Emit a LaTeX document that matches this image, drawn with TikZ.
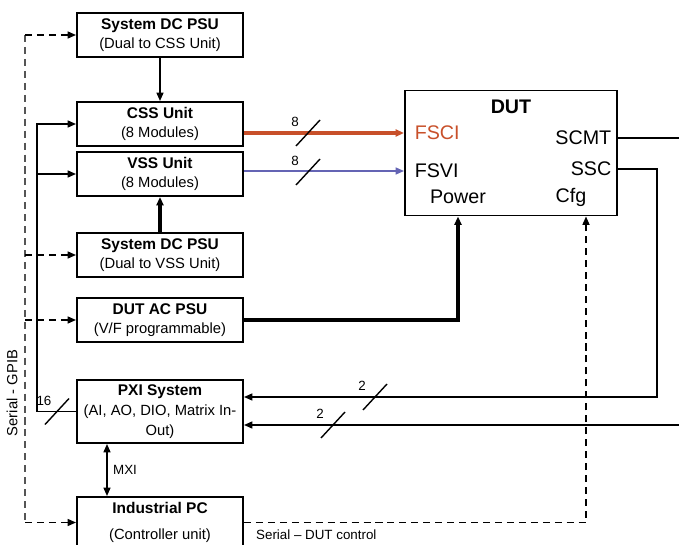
\documentclass[tikz,border=0pt]{standalone}
\usepackage{fontspec}
\setmainfont{Liberation Sans}
\usetikzlibrary{arrows.meta, calc}
\definecolor{cfsci}{HTML}{C8502A}
\definecolor{cfsvi}{HTML}{6464B4}
\definecolor{cgpib}{HTML}{555555}
\tikzset{
  every picture/.style={line width=1.1pt},
  unit/.style={draw, line width=1.4pt, align=center, minimum width=4.15cm, inner sep=2pt, font=\fontsize{10.5}{14}\selectfont},
  link/.style={-{Triangle[length=6pt,width=5pt]}},
  both/.style={{Triangle[length=6pt,width=5pt]}-{Triangle[length=6pt,width=5pt]}},
  heavy/.style={link, line width=2.2pt},
  ctrl/.style={link, dash pattern=on 5pt off 3.5pt},
  port/.style={font=\fontsize{14}{16}\selectfont, inner sep=0pt},
  note/.style={font=\fontsize{9.5}{11}\selectfont, inner sep=1pt},
  bus/.pic={\draw[line width=1pt] (-12,13) -- (12,-13); \node[note] at (-13,-11) {#1};},
}
\newcommand\unittitle[1]{{\fontsize{11}{14}\selectfont\bfseries #1}}
\begin{document}
\begin{tikzpicture}[x=0.025cm, y=-0.025cm]
  \useasboundingbox (0,0) rectangle (679,545);
  % units on the left
  \foreach \n/\y/\h/\t in {
     psuc/35/44/{\unittitle{System DC PSU}\\(Dual to CSS Unit)},
     css/124/44/{\unittitle{CSS Unit}\\(8 Modules)},
     vss/174/44/{\unittitle{VSS Unit}\\(8 Modules)},
     psuv/255/44/{\unittitle{System DC PSU}\\(Dual to VSS Unit)},
     acpsu/320/44/{\unittitle{DUT AC PSU}\\(V/F programmable)},
     pxi/411.5/63/{\unittitle{PXI System}\\(AI, AO, DIO, Matrix In-\\Out)},
     ipc/522.5/51/{\unittitle{Industrial PC}\\[5pt](Controller unit)}} {
    \node[unit, minimum height=\h*0.025cm] (\n) at (160,\y) {\t};
  }
  % DUT and its ports
  \node[unit, minimum width=212*0.025cm, minimum height=125*0.025cm] (dut) at (511,153) {};
  \node[port, font=\fontsize{14}{16}\selectfont\bfseries] (duttitle) at (511,107) {DUT};
  \node[port, anchor=west, text=cfsci] (fsci) at (414,133) {FSCI};
  \node[port, anchor=west] (fsvi) at (414,171) {FSVI};
  \node[port] (power) at (458,197) {Power};
  \node[port, anchor=east] (scmt) at (612,138) {SCMT};
  \node[port, anchor=east] (ssc) at (612,169) {SSC};
  \node[port] (cfg) at (571,197) {Cfg};
  \coordinate (cfgx) at (586,0);
  \coordinate (scmtout) at (679,0);
  \coordinate (sscturn) at (657,397);
  \coordinate (scmtin) at (679,425);
  \coordinate (busx) at (37,0);
  \coordinate (gpibx) at (25,0);
  \coordinate (mxi) at (107,470);
  % power and signals
  \draw[link] (psuc) -- (css);
  \draw[heavy] (psuv) -- (vss);
  \draw[heavy, draw=cfsci] (css.east |- fsci) -- (dut.west |- fsci);
  \draw[link, draw=cfsvi, line width=0.9pt] (vss.east |- fsvi) -- (dut.west |- fsvi);
  \draw[heavy] (acpsu.east) -| (dut.south -| power);
  \draw[ctrl] (ipc.east) -| (dut.south -| cfgx);
  \draw (dut.east |- scmt) -- (scmtout |- scmt);
  \draw[link] (dut.east |- ssc) -| (sscturn) -- (sscturn -| pxi.east);
  \draw[link] (scmtin) -- (scmtin -| pxi.east);
  \draw[link] (pxi.west) -| (busx |- css) -- (css.west);
  \draw[link] (busx |- vss) -- (vss.west);
  \draw[both] (mxi |- pxi.south) -- (mxi |- ipc.north);
  % serial bus
  \draw[draw=cgpib, line width=0.9pt, dash pattern=on 5pt off 3.5pt] (gpibx |- psuc) -- (gpibx |- ipc);
  \foreach \b in {psuc, psuv, acpsu, ipc} \draw[ctrl] (gpibx |- \b) -- (\b.west);
  \node[rotate=90, font=\fontsize{10.5}{12}\selectfont] (gpib) at (12,393) {Serial - GPIB};
  \node[note, anchor=west] (mxilabel) at (111,470) {MXI};
  \node[note, anchor=west] (serialdut) at (254,535) {Serial -- DUT control};
  % bus widths
  \foreach \x/\y/\w in {308/133/8, 308/172/8, 375/397/2, 333/425/2, 57/411.5/16}
    \pic at (\x,\y) {bus=\w};
\end{tikzpicture}
\end{document}
